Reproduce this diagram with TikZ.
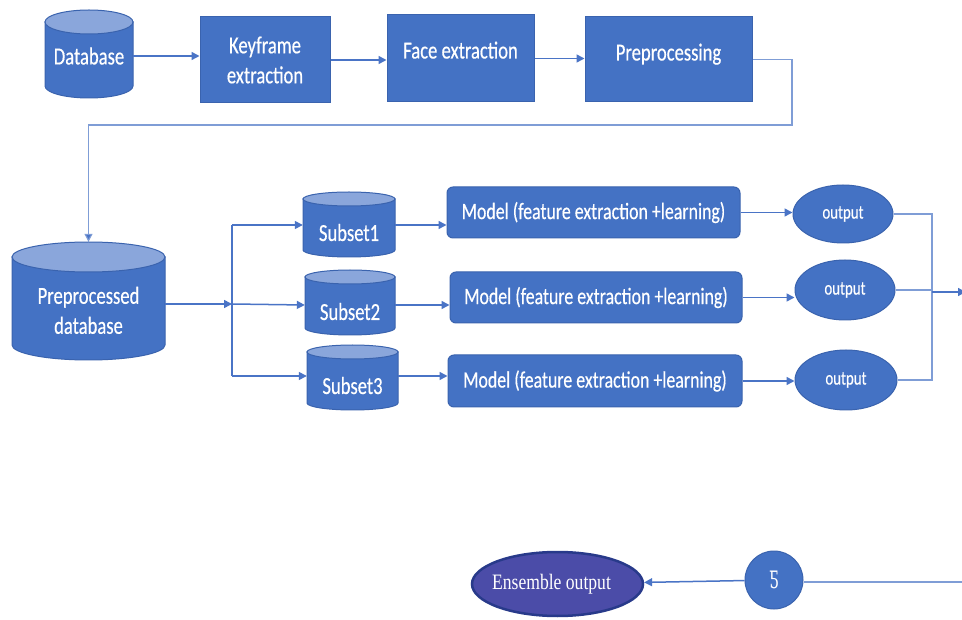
\documentclass[tikz,border=0pt]{standalone}
\usepackage{fontspec}
\setmainfont{Carlito}[FakeStretch=0.76,FakeBold=0.4]
\newfontfamily\serifc{Liberation Serif}[FakeStretch=0.8]
\newfontfamily\dvs{DejaVu Serif}
\usetikzlibrary{arrows.meta,calc,shapes.geometric}
\definecolor{bfill}{HTML}{4472C4}
\definecolor{bdraw}{HTML}{3A63AE}
\definecolor{ctop}{HTML}{8AA6DB}
\definecolor{lcol}{HTML}{4A74C6}
\definecolor{thinc}{HTML}{7F9DD6}
\definecolor{efill}{HTML}{4B4CA8}
\definecolor{edraw}{HTML}{283A8A}
\newcommand\mycyl[5]{%
  \filldraw[fill=bfill,draw=bdraw,line width=1pt] (#1-#4,#2) -- (#1-#4,#3)
    arc[start angle=180,end angle=0,x radius=#4,y radius=#5] -- (#1+#4,#2) -- cycle;
  \filldraw[fill=ctop,draw=bdraw,line width=1pt] (#1,#2) ellipse[x radius=#4,y radius=#5];
}
\newcommand\shifted[2]{\smash{\raisebox{#1}{#2}}}
\newcommand\lines[2]{\smash{\raisebox{#1}{\begin{tabular}{@{}c@{}}#2\end{tabular}}}}
\tikzset{
  box/.style={rectangle, fill=bfill, draw=bdraw, line width=1pt, text=white,
    font=\fontsize{24.5}{30}\selectfont, align=center, inner sep=0pt},
  mbox/.style={box, rounded corners=6pt, font=\fontsize{23.5}{26}\selectfont},
  cyln/.style={rectangle, draw=none, text=white, font=\fontsize{24.5}{30}\selectfont,
    align=center, inner sep=0pt},
  outn/.style={ellipse, fill=bfill, draw=bdraw, line width=1pt, text=white,
    font=\fontsize{19.5}{20}\selectfont, inner sep=0pt},
  arr/.style={draw=lcol, line width=1.5pt, -{Triangle[length=8pt,width=8pt]}},
  ln/.style={draw=thinc, line width=1.1pt},
}
\begin{document}
\begin{tikzpicture}[x=1pt,y=-1pt]
\fill[white] (0,0) rectangle (962,620);
\useasboundingbox (0,0) rectangle (962,620);

% top row
\mycyl{89}{22}{86}{44}{12}
\node[cyln, minimum width=88pt, minimum height=88pt] (db) at (89,56) {Database};
\node[box, minimum width=130pt, minimum height=86pt] (kf) at (265,60) {Keyframe\\extraction};
\node[box, minimum width=147pt, minimum height=87pt] (fe) at (460.5,58.5) {\shifted{0pt}{Face extraction}};
\node[box, minimum width=167pt, minimum height=85pt] (pp) at (668.5,59.5) {\shifted{-1pt}{Preprocessing}};

\draw[arr] (db.east) -- (db.east -| kf.west);
\draw[arr] (kf.east) -- (kf.east -| fe.west);
\draw[arr] (fe.east) -- (fe.east -| pp.west);

% preprocessed database
\mycyl{88.5}{257}{345}{76.5}{15}
\node[cyln, minimum width=153pt, minimum height=124pt] (pdb) at (88.5,304)
  {\lines{-15pt}{Preprocessed\\database}};

\draw[ln, -{Triangle[length=8pt,width=8pt,fill=lcol]}]
  (pp.east) -| (792,125) -| (pdb.north);

% subsets
\mycyl{349}{199}{250}{46}{7}
\mycyl{350}{277}{328}{45}{7}
\mycyl{352.5}{352}{403}{45.5}{7}
\node[cyln, minimum width=92pt, minimum height=40pt] (s1) at (349,225) {\shifted{-16pt}{Subset1}};
\node[cyln, minimum width=90pt, minimum height=40pt] (s2) at (350,305) {\shifted{-15pt}{Subset2}};
\node[cyln, minimum width=91pt, minimum height=40pt] (s3) at (352.5,376) {\shifted{-18pt}{Subset3}};

\coordinate (j) at (232,304);
\draw[arr] (pdb.east) -- (j);
\draw[draw=lcol, line width=1.4pt] (j |- s1.west) -- (j |- s3.west);
\draw[arr] (j |- s1.west) -- (s1.west);
\draw[arr] (j) -- (s2.west);
\draw[arr] (j |- s3.west) -- (s3.west);

% models
\node[mbox, minimum width=293pt, minimum height=51pt] (m1) at (593.5,212.5) {Model (feature extraction +learning)};
\node[mbox, minimum width=292pt, minimum height=51pt] (m2) at (596,297.5) {Model (feature extraction +learning)};
\node[mbox, minimum width=294pt, minimum height=52pt] (m3) at (595,381) {Model (feature extraction +learning)};

\draw[arr] (s1.east) -- (s1.east -| m1.west);
\draw[arr] (s2.east) -- (s2.east -| m2.west);
\draw[arr] (s3.east) -- (s3.east -| m3.west);

% outputs
\node[outn, minimum width=100pt, minimum height=58pt] (o1) at (843,214) {output};
\node[outn, minimum width=100pt, minimum height=60pt] (o2) at (845,290) {output};
\node[outn, minimum width=102pt, minimum height=60pt] (o3) at (846,380) {output};

\draw[arr] (m1.east) -- (m1.east -| o1.west);
\draw[arr] (m2.east) -- (m2.east -| o2.west);
\draw[arr] (m3.east) -- (m3.east -| o3.west);

\coordinate (k) at (932,292);
\coordinate (rr) at (966,292);
\draw[ln] (o1.east) -| (k |- o3.east) -- (o3.east);
\draw[ln] (o2.east) -- (k |- o2.east);
\draw[arr, line width=1.2pt] (k) -- (rr);

% bottom
\coordinate (br) at (964,582);
\node[circle, fill=bfill, draw=bdraw, line width=1pt, minimum size=58pt, inner sep=0pt, text=white,
  font=\dvs\fontsize{24}{26}\selectfont] (sg) at (774,580) {\scalebox{0.6}[1]{Ƽ}};
\node[ellipse, fill=efill, draw=edraw, line width=2.5pt, minimum width=171pt, minimum height=64pt,
  inner sep=0pt, text=white, font=\serifc\fontsize{22}{24}\selectfont] (en) at (557.5,584) {\hspace*{-12pt}Ensemble output};
\draw[ln, line width=1.3pt] (br) -- (br -| sg.east);
\draw[arr] (sg) -- (en);
\end{tikzpicture}
\end{document}
